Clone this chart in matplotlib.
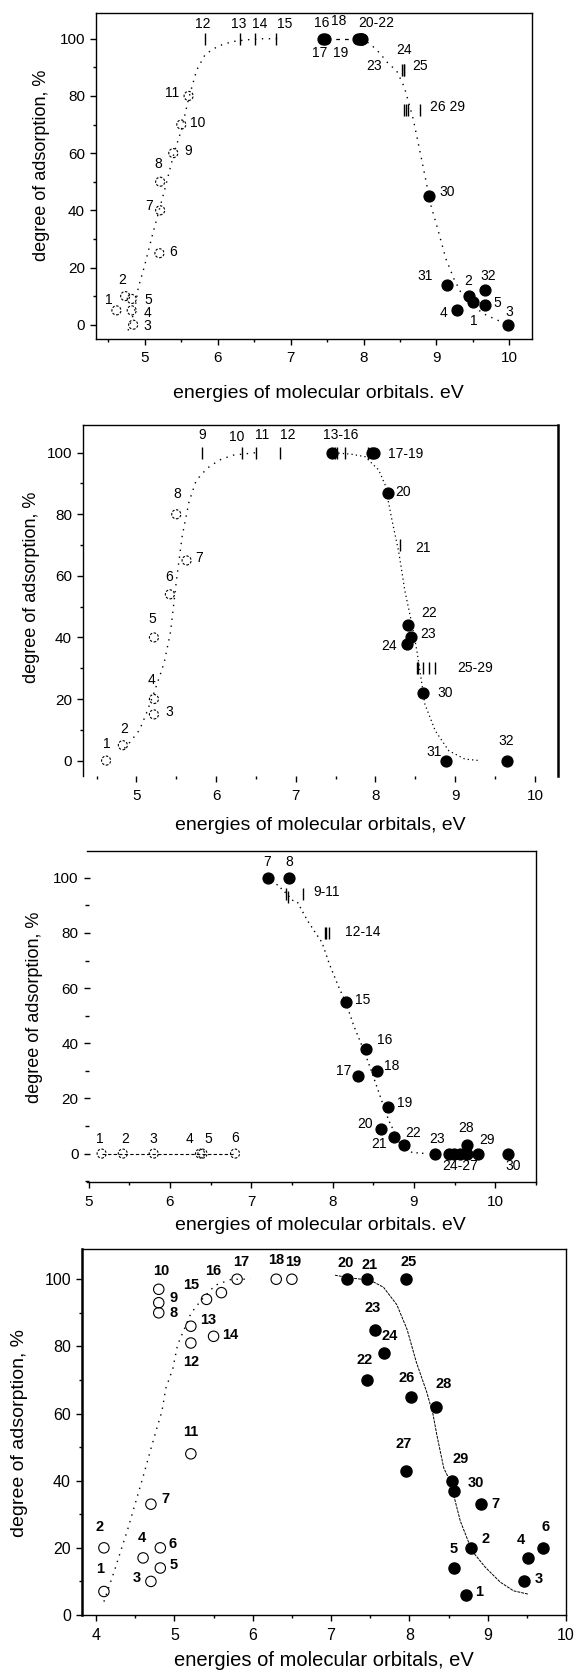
import matplotlib
matplotlib.use("Agg")
import matplotlib.pyplot as plt
from matplotlib.ticker import MultipleLocator

plt.rcParams['font.family'] = ['Liberation Sans', 'DejaVu Sans']

W, H = 578, 1675

# ---------------- Panel 1 data ----------------
p1_open_x = [4.61, 4.73, 4.84, 4.82, 4.82, 5.20, 5.21, 5.21, 5.39, 5.50, 5.60]
p1_open_y = [5, 10, 0, 5, 9, 25, 40, 50, 60, 70, 80]
p1_bar_x = [5.82, 6.30, 6.51, 6.80, 8.53, 8.55, 8.555, 8.56, 8.58, 8.61, 8.77]
p1_bar_y = [100, 100, 100, 100, 89, 89, 89, 75, 75, 75, 75]
p1_fill_x = [7.44, 7.47, 7.93, 7.95, 7.97, 7.98, 7.96, 8.90, 9.15, 9.44, 9.67, 9.67, 9.50, 9.28, 9.98]
p1_fill_y = [100, 100, 100, 100, 100, 100, 100, 45, 14, 10, 12, 7, 8, 5, 0]
p1_curveL_x = [4.77, 4.86, 4.91, 4.99, 5.10, 5.27, 5.40, 5.50, 5.60, 5.71, 5.83, 6.01, 6.20, 6.38, 6.60, 6.85]
p1_curveL_y = [-2, 5, 13, 20, 31, 47, 60, 68, 79, 89, 94.6, 97.5, 99, 99.6, 100, 100]
p1_curveM_x = [7.50, 7.92]
p1_curveM_y = [100, 100]
p1_curveR_x = [7.97, 8.10, 8.22, 8.35, 8.45, 8.56, 8.68, 8.77, 8.85, 8.92, 9.00, 9.13, 9.24, 9.34, 9.50, 9.63, 9.80, 9.98]
p1_curveR_y = [100, 98, 95, 91, 89, 83, 72, 61, 51, 42, 35, 23, 16, 11, 7, 4, 2, 0]
p1_labels = ["1", "2", "5", "4", "3", "6", "7", "8", "9", "10", "11", "12", "13", "14", "15",
             "16", "18", "20-22", "17", "19", "24", "23", "25", "26 29", "30", "31", "2", "32",
             "5", "3", "4", "1"]
p1_lab_x = [4.50, 4.69, 5.05, 5.03, 5.03, 5.39, 5.06, 5.19, 5.59, 5.73, 5.37, 5.79, 6.29, 6.57, 6.92,
            7.42, 7.66, 8.17, 7.40, 7.69, 8.55, 8.15, 8.77, 9.15, 9.15, 8.85, 9.44, 9.71,
            9.84, 10.0, 9.10, 9.51]
p1_lab_y = [8.7, 15.7, 8.7, 4.0, -0.5, 25.3, 41.6, 56.3, 60.6, 70.7, 81, 105.2, 105.2, 105.2, 105.2,
            105.5, 106.2, 105.5, 95, 95, 96, 90.3, 90.3, 76.3, 46.3, 16.9, 15.4, 17.1,
            7.6, 4.6, 4.1, 1.2]

# ---------------- Panel 2 data ----------------
p2_open_x = [4.62, 4.83, 5.22, 5.22, 5.22, 5.42, 5.63, 5.50]
p2_open_y = [0, 5, 15, 20, 40, 54, 65, 80]
p2_bar_x = [5.82, 6.32, 6.50, 6.80, 7.49, 7.52, 7.62, 7.91, 8.31, 8.52, 8.53, 8.59, 8.67, 8.75]
p2_bar_y = [100, 100, 100, 100, 100, 100, 100, 100, 70, 30, 30, 30, 30, 30]
p2_fill_x = [7.45, 7.96, 7.98, 8.16, 8.41, 8.44, 8.39, 8.60, 8.88, 9.65]
p2_fill_y = [100, 100, 100, 87, 44, 40, 38, 22, 0, 0]
p2_curveL_x = [4.85, 4.92, 5.04, 5.12, 5.22, 5.30, 5.35, 5.43, 5.50, 5.575, 5.66, 5.75, 5.89, 6.04, 6.21, 6.39, 6.50]
p2_curveL_y = [4, 6, 10, 15, 22, 28, 32, 42, 58, 73, 84, 91, 95, 97.6, 99.2, 99.7, 100]
p2_curveR_x = [7.48, 7.70, 7.87, 8.04, 8.12, 8.21, 8.29, 8.37, 8.46, 8.52, 8.62, 8.75, 8.92, 9.12, 9.31]
p2_curveR_y = [100, 99.5, 98.7, 94.4, 89.6, 77.7, 68, 55, 44, 35.6, 18.3, 9.7, 3.2, 0.5, 0]
p2_labels = ["1", "2", "3", "4", "5", "6", "7", "8", "9", "10", "11", "12", "13-16", "17-19",
             "20", "21", "22", "23", "24", "25-29", "30", "31", "32"]
p2_lab_x = [4.625, 4.845, 5.41, 5.195, 5.20, 5.41, 5.79, 5.51, 5.82, 6.26, 6.58, 6.90, 7.56, 8.38,
            8.34, 8.59, 8.67, 8.66, 8.17, 9.25, 8.875, 8.73, 9.645]
p2_lab_y = [5.4, 10.2, 15.9, 26.1, 46, 59.7, 65.8, 86.5, 105.7, 105.2, 105.7, 105.7, 105.8, 99.5,
            87.3, 69, 48, 41, 37.2, 30.2, 22.1, 2.7, 6.5]

# ---------------- Panel 3 data ----------------
p3_open_x = [5.16, 5.42, 5.80, 6.37, 6.40, 6.80]
p3_open_y = [0, 0, 0, 0, 0, 0]
p3_bar_x = [7.43, 7.45, 7.64, 7.90, 7.92, 7.96]
p3_bar_y = [94, 93, 94, 80, 80, 80]
p3_fill_x = [7.20, 7.46, 8.16, 8.41, 8.31, 8.54, 8.68, 8.60, 8.75, 8.88, 9.26, 9.43, 9.49, 9.57, 9.65, 9.65, 9.79, 10.15]
p3_fill_y = [100, 100, 55, 38, 28, 30, 17, 9, 6, 3, 0, 0, 0, 0, 0, 3, 0, 0]
p3_curve_x = [7.20, 7.26, 7.39, 7.51, 7.57, 7.69, 7.79, 7.87, 7.96, 8.08, 8.16, 8.26, 8.39, 8.49, 8.59, 8.69, 8.85, 8.98, 9.15]
p3_curve_y = [100, 99, 95.5, 91.8, 91, 84.5, 80, 76.5, 68.7, 60, 55, 46.3, 37, 28.8, 20.3, 12, 2.2, 0.4, 0]
p3_labels = ["1", "2", "3", "4", "5", "6", "7", "8", "9-11", "12-14", "15", "16", "17", "18", "19",
             "20", "21", "22", "23", "24-27", "28", "29", "30"]
p3_lab_x = [5.14, 5.45, 5.80, 6.245, 6.47, 6.80, 7.195, 7.47, 7.92, 8.37, 8.37, 8.64, 8.13, 8.73, 8.89,
            8.40, 8.57, 8.99, 9.28, 9.57, 9.64, 9.90, 10.22]
p3_lab_y = [5.2, 5.2, 5.2, 5.2, 5.2, 5.5, 105.7, 105.7, 94.8, 80.5, 55.7, 41.2, 29.8, 31.9, 18.5,
            10.7, 3.4, 7.6, 5.2, -4.5, 9.2, 4.9, -4.5]

# ---------------- Panel 4 data ----------------
p4_open_x = [4.10, 4.10, 4.70, 4.60, 4.82, 4.82, 4.70, 4.80, 4.80, 4.80, 5.21, 5.21, 5.21, 5.50, 5.41, 5.60, 5.80, 6.30, 6.50]
p4_open_y = [7, 20, 10, 17, 14, 20, 33, 90, 93, 97, 48, 81, 86, 83, 94, 96, 100, 100, 100]
p4_fill_x = [8.72, 8.79, 9.47, 9.52, 8.57, 9.70, 8.92, 7.21, 7.46, 7.46, 7.56, 7.67, 7.96, 8.02, 7.96, 8.34, 8.54, 8.57]
p4_fill_y = [6, 20, 10, 17, 14, 20, 33, 100, 100, 70, 85, 78, 100, 65, 43, 62, 40, 37]
p4_curveL_x = [4.10, 4.24, 4.41, 4.62, 4.69, 4.78, 4.84, 4.89, 4.98, 5.04, 5.21, 5.34, 5.52, 5.73, 5.97]
p4_curveL_y = [4, 13.6, 26, 42.8, 48.7, 56, 60.6, 67.5, 73.4, 80.4, 89.8, 93.7, 98.2, 100, 100]
p4_curveR_x = [7.05, 7.24, 7.50, 7.67, 7.84, 7.97, 8.09, 8.22, 8.30, 8.35, 8.44, 8.52, 8.65, 8.80, 8.97, 9.16, 9.33, 9.52]
p4_curveR_y = [101.2, 100.4, 99.7, 97.6, 92.4, 85.1, 75.2, 66.5, 60, 53.7, 43.7, 39.9, 28, 19.1, 14.2, 9.8, 7.2, 6.2]
p4_labels = ["1", "2", "3", "4", "5", "6", "7", "8", "9", "10", "11", "12", "13", "14", "15", "16",
             "17", "18", "19", "20", "21", "25", "23", "24", "22", "26", "28", "27", "29", "30",
             "7", "2", "5", "1", "4", "6", "3"]
p4_lab_x = [4.05, 4.05, 4.52, 4.58, 4.99, 4.97, 4.88, 4.99, 4.99, 4.83, 5.21, 5.22, 5.43, 5.71, 5.22, 5.49,
            5.85, 6.30, 6.52, 7.19, 7.49, 7.99, 7.53, 7.75, 7.43, 7.96, 8.44, 7.93, 8.65, 8.85,
            9.10, 8.97, 8.57, 8.89, 9.42, 9.74, 9.65]
p4_lab_y = [13.6, 26.1, 10.9, 23, 14.9, 21, 34.4, 89.8, 94.4, 102.4, 54.4, 75.3, 88, 83.3, 98.4, 102.4,
            105.1, 105.6, 105.2, 104.7, 104.2, 105, 91.3, 83.2, 75.9, 70.5, 68.7, 50.9, 46.5, 39.3,
            33.1, 22.7, 19.7, 6.9, 22.2, 26.1, 10.6]

XLABEL_DOT = "energies of molecular orbitals. eV"
XLABEL_COMMA = "energies of molecular orbitals, eV"
YLABEL = "degree of adsorption, %"

fig = plt.figure(figsize=(W / 100, H / 100), dpi=100)


def make_ax(l, r, t, b):
    return fig.add_axes([l / W, 1 - b / H, (r - l) / W, (b - t) / H])


def open_circles(ax, x, y, size=6.5, dashed=True, lw=0.8):
    ls = (0, (2.2, 1.4)) if dashed else '-'
    ax.scatter(x, y, s=size ** 2, facecolors='none', edgecolors='k',
               linewidths=lw, linestyles=ls, zorder=3, clip_on=False)


def filled(ax, x, y, ms=7.8):
    ax.plot(x, y, ls='none', marker='o', ms=ms, color='k', zorder=4, clip_on=False)


def bars(ax, x, y, ms=9):
    ax.plot(x, y, ls='none', marker='|', ms=ms, mew=1.0, color='k', zorder=4)


def labels(ax, txt, xs, ys, fs=10, weight='normal'):
    for t, xx, yy in zip(txt, xs, ys):
        ax.text(xx, yy, t, ha='center', va='center', fontsize=fs, fontweight=weight, clip_on=False)


def axis_text(xc, yc, s, rot=0, fs=14):
    fig.text(xc / W, 1 - yc / H, s, ha='center', va='center', rotation=rot, fontsize=fs)


# ================= Panel 1 =================
ax1 = make_ax(96, 532, 13, 339)
ax1.set_xlim(4.33, 10.31)
ax1.set_ylim(-5, 109)
ax1.plot(p1_curveL_x, p1_curveL_y, color='k', lw=1.0, ls=(0, (1, 4)))
ax1.plot(p1_curveM_x, p1_curveM_y, color='k', lw=0.9, ls=(0, (3, 4)))
ax1.plot(p1_curveR_x, p1_curveR_y, color='k', lw=1.0, ls=(0, (1, 4)))
open_circles(ax1, p1_open_x, p1_open_y)
bars(ax1, p1_bar_x, p1_bar_y)
filled(ax1, p1_fill_x, p1_fill_y)
labels(ax1, p1_labels, p1_lab_x, p1_lab_y)
axis_text(318, 393, XLABEL_DOT)
axis_text(42, 165, YLABEL, rot=90, fs=13)

# ================= Panel 2 =================
ax2 = make_ax(83, 558, 425, 776)
ax2.set_xlim(4.33, 10.29)
ax2.set_ylim(-5, 109)
ax2.plot(p2_curveL_x, p2_curveL_y, color='k', lw=1.0, ls=(0, (1, 4)))
ax2.plot(p2_curveR_x, p2_curveR_y, color='k', lw=0.9, ls=(0, (1, 2.5)))
open_circles(ax2, p2_open_x, p2_open_y)
bars(ax2, p2_bar_x, p2_bar_y)
filled(ax2, p2_fill_x, p2_fill_y)
labels(ax2, p2_labels, p2_lab_x, p2_lab_y)
ax2.spines['bottom'].set_visible(False)
ax2.spines['right'].set_linewidth(1.8)
axis_text(320, 825, XLABEL_COMMA)
axis_text(32, 587, YLABEL, rot=90, fs=13)

# ================= Panel 3 =================
ax3 = make_ax(87, 536, 851, 1182)
ax3.set_xlim(4.98, 10.5)
ax3.set_ylim(-10.3, 109.7)
ax3.plot(p3_open_x, p3_open_y, color='k', lw=0.8, ls=(0, (3, 2)))
ax3.plot(p3_curve_x, p3_curve_y, color='k', lw=1.0, ls=(0, (1, 3)))
open_circles(ax3, p3_open_x, p3_open_y)
bars(ax3, p3_bar_x, p3_bar_y)
filled(ax3, p3_fill_x, p3_fill_y)
labels(ax3, p3_labels, p3_lab_x, p3_lab_y)
ax3.spines['left'].set_visible(False)
axis_text(320, 1225, XLABEL_DOT)
axis_text(35, 1007, YLABEL, rot=90, fs=13)

# ================= Panel 4 =================
ax4 = make_ax(82, 566, 1249, 1615)
ax4.set_xlim(3.82, 10.0)
ax4.set_ylim(0, 109)
ax4.plot(p4_curveL_x, p4_curveL_y, color='k', lw=1.0, ls=(0, (1, 4)))
ax4.plot(p4_curveR_x, p4_curveR_y, color='k', lw=0.7, ls=(0, (3, 1)))
open_circles(ax4, p4_open_x, p4_open_y, size=7.5, dashed=False, lw=0.8)
filled(ax4, p4_fill_x, p4_fill_y, ms=8)
labels(ax4, p4_labels, p4_lab_x, p4_lab_y, fs=10.5, weight='bold')
ax4.spines['left'].set_linewidth(1.8)
axis_text(324, 1660, XLABEL_COMMA, fs=14.5)
axis_text(20, 1433, YLABEL, rot=90, fs=14)

# ---------------- ticks ----------------
for ax, ydir in [(ax1, 'out'), (ax2, 'out'), (ax3, 'inout'), (ax4, 'out')]:
    ax.xaxis.set_major_locator(MultipleLocator(1))
    ax.xaxis.set_minor_locator(MultipleLocator(0.5))
    ax.yaxis.set_major_locator(MultipleLocator(20))
    ax.yaxis.set_minor_locator(MultipleLocator(10))
    ax.tick_params(axis='x', which='major', direction='out', length=4, width=1.0, pad=5, labelsize=11)
    ax.tick_params(axis='x', which='minor', direction='out', length=2.5, width=1.0)
    ax.tick_params(axis='y', which='major', direction=ydir, length=4, width=1.0, pad=4, labelsize=11)
    ax.tick_params(axis='y', which='minor', direction=ydir, length=2.5, width=1.0)
    for sp in ax.spines.values():
        if sp.get_linewidth() < 1.5:
            sp.set_linewidth(1.0)

for ax in (ax1, ax2, ax3, ax4):
    ax.set_yticks([0, 20, 40, 60, 80, 100])
ax4.tick_params(labelsize=11.5)

fig.savefig("out.png", dpi=100)
